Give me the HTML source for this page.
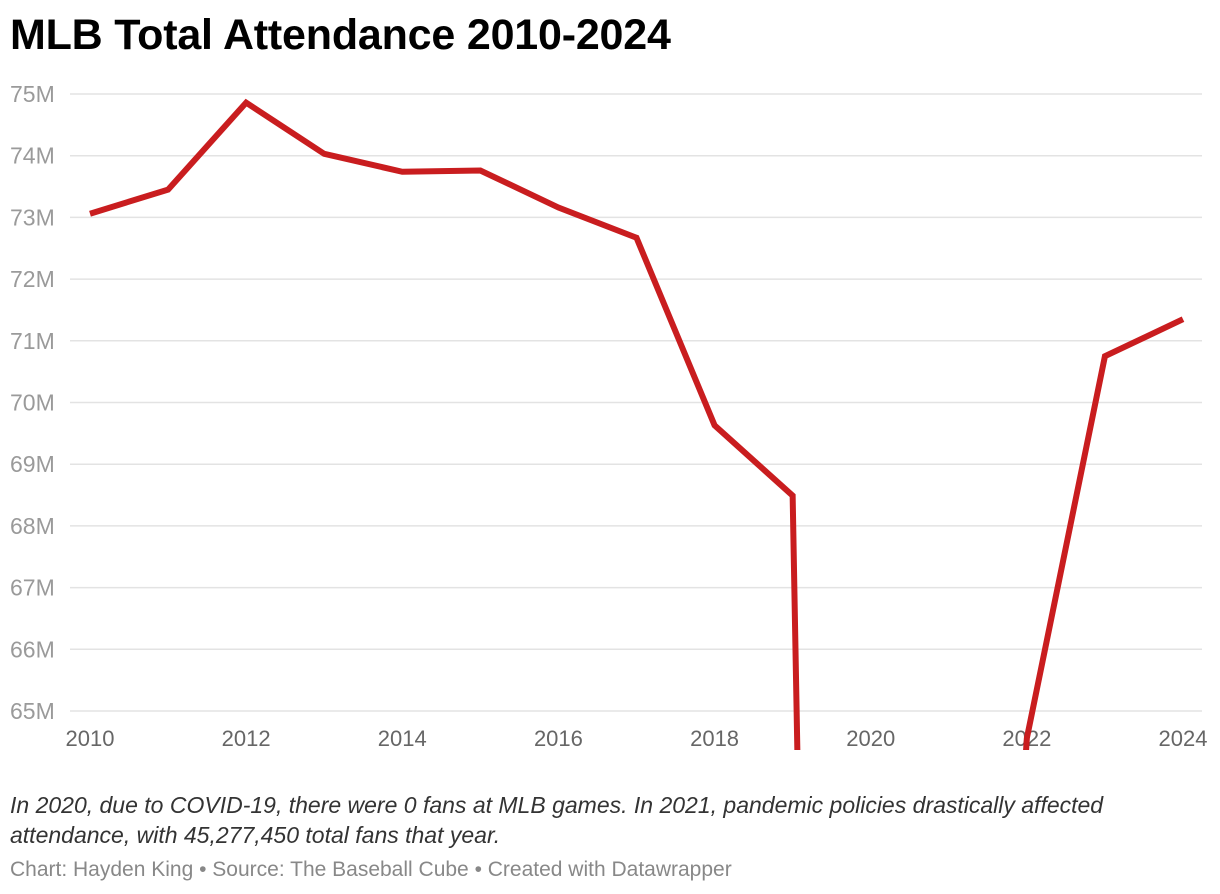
<!DOCTYPE html>
<html><head><meta charset="utf-8"><style>
html,body{margin:0;background:#fff;font-family:"Liberation Sans",sans-serif;overflow:hidden}
#wrap{position:relative;width:1220px;height:894px;overflow:hidden}
h1{position:absolute;left:10px;top:11px;margin:0;font-size:43px;font-weight:bold;color:#000;letter-spacing:-0.2px;white-space:nowrap}
.note{position:absolute;left:10px;top:790px;font-size:23px;font-style:italic;color:#333;line-height:30px;width:1130px}
.src{position:absolute;left:10px;top:858px;font-size:21px;color:#888;white-space:nowrap}
</style></head><body>
<div id="wrap">
<h1>MLB Total Attendance 2010-2024</h1>
<svg id="chart" width="1220" height="894" style="position:absolute;left:0;top:0"></svg>
<div class="note">In 2020, due to COVID-19, there were 0 fans at MLB games. In 2021, pandemic policies drastically affected attendance, with 45,277,450 total fans that year.</div>
<div class="src">Chart: Hayden King • Source: The Baseball Cube • Created with Datawrapper</div>
</div>
<script>
const years=[2010,2011,2012,2013,2014,2015,2016,2017,2018,2019,2020,2021,2022,2023,2024];
const attendance=[73.06,73.45,74.86,74.03,73.74,73.76,73.16,72.67,69.63,68.49,0,45.28,64.56,70.75,71.35];
const yTicks=[65,66,67,68,69,70,71,72,73,74,75];
const xTicks=[2010,2012,2014,2016,2018,2020,2022,2024];
const NS="http://www.w3.org/2000/svg";
const svg=document.getElementById('chart');
const x=v=>90+(v-2010)*(1183-90)/14;
const y=v=>711-(v-65)*61.7;
function mk(t,a){const e=document.createElementNS(NS,t);for(const k in a)e.setAttribute(k,a[k]);svg.appendChild(e);return e;}
yTicks.forEach(t=>{
 const l=mk('line',{x1:70,x2:1202,y1:y(t),y2:y(t),stroke:'#e3e3e3','stroke-width':1.5});
 
 
 const tx=mk('text',{x:10,y:y(t)+8,'font-size':23,fill:'#9a9a9a','font-family':'Liberation Sans, sans-serif'});
 tx.textContent=t+'M';
 
 
});
xTicks.forEach(t=>{
 const tx=mk('text',{x:x(t),y:746,'text-anchor':'middle','font-size':22,fill:'#666','font-family':'Liberation Sans, sans-serif'});
 tx.textContent=t;
 
 
});
const cp=mk('clipPath',{id:'clip'});
const r=document.createElementNS(NS,'rect');r.setAttribute('x',0);r.setAttribute('y',0);r.setAttribute('width',1220);r.setAttribute('height',750);cp.appendChild(r);
const p=mk('polyline',{points:years.map((yr,i)=>x(yr)+','+y(attendance[i])).join(' '),fill:'none',stroke:'#c91d1f','stroke-width':6,'stroke-linejoin':'miter','clip-path':'url(#clip)'});


</script>
</body></html>
